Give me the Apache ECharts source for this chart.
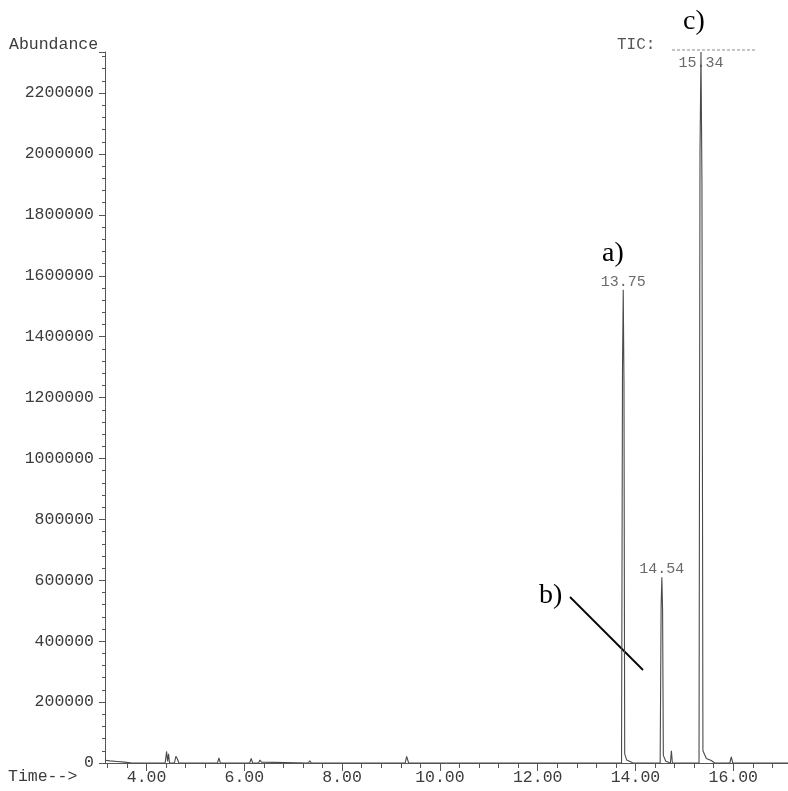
<!DOCTYPE html>
<html>
<head>
<meta charset="utf-8">
<script src="https://cdn.jsdelivr.net/npm/echarts@6/dist/echarts.min.js"></script>
<style>
  html, body { margin: 0; padding: 0; background: #fff; }
  #chart { width: 788px; height: 791px; }
</style>
</head>
<body>
<div id="chart"></div>
<script>
// Total ion chromatogram: retention time (min) vs abundance
const retentionTime = [
  3.15, 3.25, 3.40, 3.55, 3.70,
  4.38, 4.41, 4.43, 4.45, 4.47, 4.57, 4.60, 4.63, 4.66,
  5.00, 5.03, 5.06, 5.45, 5.48, 5.51,
  6.11, 6.14, 6.17, 6.29, 6.32, 6.35, 6.38,
  7.31, 7.34, 7.37, 9.29, 9.32, 9.36,
  13.715, 13.735, 13.75, 13.765, 13.78, 13.82, 13.90, 13.95,
  14.505, 14.525, 14.54, 14.555, 14.57, 14.62, 14.66,
  14.715, 14.735, 14.755, 15.14, 15.165, 15.19,
  15.30, 15.32, 15.34, 15.36, 15.38, 15.45, 15.55, 15.62,
  15.93, 15.96, 15.99, 17.12
];
const abundance = [
  9000, 7000, 5000, 3000, 0,
  0, 38000, 5000, 30000, 0, 0, 22000, 14000, 0,
  0, 5000, 0, 0, 17000, 0,
  0, 15000, 0, 0, 10000, 3000, 0,
  0, 7000, 0, 0, 22000, 0,
  0, 1300000, 1554000, 1250000, 30000, 10000, 4000, 0,
  0, 520000, 610000, 500000, 25000, 6000, 0,
  0, 40000, 0, 0, 6000, 0,
  0, 2000000, 2335000, 1900000, 40000, 15000, 8000, 0,
  0, 20000, 0, 0
];
// Retention times of the labelled peaks
const labelledPeaks = [13.75, 14.54, 15.34];
const peakLabelBelow = [15.34];

// Axis tick positions
const timeMajorTicks = [4, 6, 8, 10, 12, 14, 16];
const timeMinorTicks = [3.2, 3.6, 4.4, 4.8, 5.2, 5.6, 6.4, 6.8, 7.2, 7.6, 8.4, 8.8, 9.2, 9.6,
  10.4, 10.8, 11.2, 11.6, 12.4, 12.8, 13.2, 13.6, 14.4, 14.8, 15.2, 15.6, 16.4, 16.8];
const abundanceStep = 200000;

const mono = '"Liberation Mono", "DejaVu Sans Mono", monospace';
const serif = '"Liberation Serif", "DejaVu Serif", serif';
const textGrey = '#3c3c3c';
const axisGrey = '#555';

const traceData = retentionTime.map((t, i) => [t, abundance[i]]);

// Peak apex points carry the retention-time labels
const peakData = labelledPeaks.map(t => {
  const below = peakLabelBelow.includes(t);
  return {
    value: [t, abundance[retentionTime.indexOf(t)]],
    label: {
      position: below ? 'bottom' : 'top',
      distance: below ? 3 : 0
    }
  };
});

const chart = echarts.init(document.getElementById('chart'), null, { renderer: 'canvas' });

chart.setOption({
  animation: false,
  backgroundColor: '#fff',
  grid: { left: 105, right: 0, top: 52, bottom: 28, containLabel: false },
  xAxis: [
    {
      type: 'value',
      min: 3.15,
      max: 17.12,
      axisLine: { show: true, lineStyle: { color: axisGrey, width: 1 } },
      axisTick: { show: true, customValues: timeMajorTicks, length: 8, lineStyle: { color: axisGrey } },
      axisLabel: {
        customValues: timeMajorTicks,
        formatter: v => v.toFixed(2),
        fontFamily: mono, fontSize: 16.5, color: textGrey, margin: 6
      },
      splitLine: { show: false }
    },
    {
      type: 'value',
      position: 'bottom',
      min: 3.15,
      max: 17.12,
      axisLine: { show: false },
      axisTick: { show: true, customValues: timeMinorTicks, length: 5, lineStyle: { color: axisGrey } },
      axisLabel: { show: false },
      splitLine: { show: false }
    }
  ],
  yAxis: {
    type: 'value',
    min: 0,
    max: 2335000,
    interval: abundanceStep,
    axisLine: { show: true, lineStyle: { color: axisGrey, width: 1 } },
    axisTick: { show: true, length: 6, lineStyle: { color: axisGrey } },
    minorTick: { show: true, splitNumber: 5, length: 3, lineStyle: { color: axisGrey } },
    axisLabel: {
      formatter: v => (v % abundanceStep === 0 ? String(v) : ''),
      fontFamily: mono, fontSize: 16.5, color: textGrey, margin: 11
    },
    splitLine: { show: false }
  },
  series: [
    {
      type: 'line',
      xAxisIndex: 0,
      data: traceData,
      showSymbol: false,
      symbol: 'none',
      lineStyle: { color: '#4a4a4a', width: 1.1 },
      clip: true,
      z: 3
    },
    {
      type: 'scatter',
      xAxisIndex: 0,
      data: peakData,
      symbol: 'circle',
      symbolSize: 1,
      itemStyle: { color: 'rgba(0,0,0,0)' },
      label: {
        show: true,
        formatter: p => p.value[0].toFixed(2),
        fontFamily: mono,
        fontSize: 15,
        color: '#444'
      },
      labelLayout: { hideOverlap: false },
      silent: true,
      z: 2
    }
  ],
  graphic: [
    { type: 'text', left: 9, top: 36, style: { text: 'Abundance', font: '16.5px ' + mono, fill: textGrey } },
    { type: 'text', left: 8, top: 768, style: { text: 'Time-->', font: '16.5px ' + mono, fill: textGrey } },
    { type: 'text', left: 617, top: 37, style: { text: 'TIC:', font: '16px ' + mono, fill: '#555' } },
    { type: 'line', shape: { x1: 672, y1: 50, x2: 755, y2: 50 },
      style: { stroke: '#888', lineWidth: 1, lineDash: [3, 2] } },
    { type: 'text', left: 683, top: 8, style: { text: 'c)', font: '28px ' + serif, fill: '#000' } },
    { type: 'text', left: 602, top: 240, style: { text: 'a)', font: '28px ' + serif, fill: '#000' } },
    { type: 'text', left: 539, top: 582, style: { text: 'b)', font: '28px ' + serif, fill: '#000' } },
    { type: 'line', shape: { x1: 570, y1: 597, x2: 643, y2: 670 },
      style: { stroke: '#000', lineWidth: 1.8 } }
  ]
});
</script>
</body>
</html>
